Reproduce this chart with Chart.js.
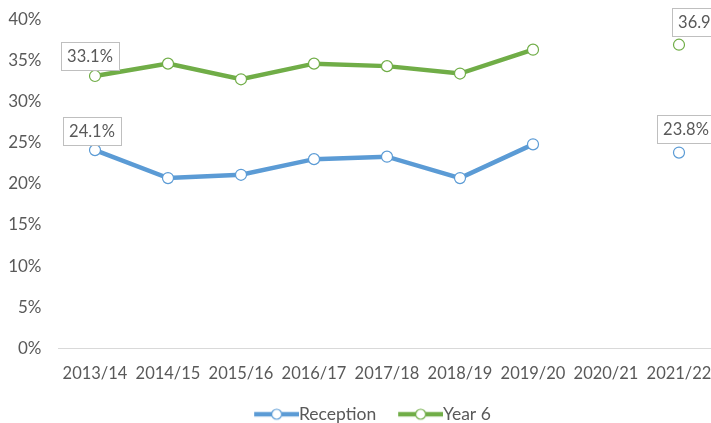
<!DOCTYPE html>
<html>
<head>
<meta charset="utf-8">
<script src="https://cdn.jsdelivr.net/npm/chart.js@4/dist/chart.umd.min.js"></script>
<style>
  html, body { margin: 0; padding: 0; background: #fff; overflow: hidden; }
  #wrap { width: 711px; height: 423px; overflow: hidden; position: relative; }
  canvas { display: block; }
</style>
</head>
<body>
<div id="wrap"><canvas id="chart" width="740" height="433"></canvas></div>
<script>
// data (2020/21 has no value)
const seasons = ['2013/14', '2014/15', '2015/16', '2016/17', '2017/18', '2018/19', '2019/20', '2020/21', '2021/22'];
const reception = [24.1, 20.7, 21.1, 23.0, 23.3, 20.7, 24.8, null, 23.8];
const year6 = [33.1, 34.6, 32.7, 34.6, 34.3, 33.4, 36.3, null, 36.9];
const yTicks = [0, 5, 10, 15, 20, 25, 30, 35, 40];

const BLUE = '#5B9BD5';
const GREEN = '#70AD47';
const TEXT = '#595959';
const FONT = 'Lato, "Open Sans", sans-serif';
const LEG_FONT = 17.5;

// legend icon: line with a hollow marker, Excel style
function legendIcon(color, boxW) {
    const c = document.createElement('canvas');
    c.width = Math.round(boxW + LEG_FONT);
    c.height = 14;
    const g = c.getContext('2d');
    const x0 = c.width - 45, x1 = c.width;
    g.strokeStyle = color;
    g.lineWidth = 4.5;
    g.beginPath(); g.moveTo(x0, 7); g.lineTo(x1, 7); g.stroke();
    g.fillStyle = '#fff';
    g.lineWidth = 1.2;
    g.beginPath(); g.arc((x0 + x1) / 2, 7, 5, 0, Math.PI * 2); g.fill(); g.stroke();
    return c;
}
const LEG_BOX = 57;
const icons = [legendIcon(BLUE, LEG_BOX), legendIcon(GREEN, LEG_BOX)];

// boxed value labels on first and last points
const boxLabels = {
    id: 'boxLabels',
    afterDatasetsDraw(chart, args, opts) {
        const ctx = chart.ctx;
        ctx.save();
        ctx.font = '16.5px ' + FONT;
        ctx.textAlign = 'center';
        ctx.textBaseline = 'middle';
        opts.items.forEach(it => {
            const el = chart.getDatasetMeta(it.ds).data[it.idx];
            const v = chart.data.datasets[it.ds].data[it.idx];
            const cx = el.x + it.dx, bottom = el.y - it.gap;
            const w = 58, h = 28;
            ctx.fillStyle = '#fff';
            ctx.fillRect(cx - w / 2, bottom - h, w, h);
            ctx.strokeStyle = '#BFBFBF';
            ctx.lineWidth = 1;
            ctx.strokeRect(Math.round(cx - w / 2) + 0.5, Math.round(bottom - h) + 0.5, w, h);
            ctx.fillStyle = TEXT;
            ctx.fillText(v.toFixed(1) + '%', cx, bottom - h / 2 + 1);
        });
        ctx.restore();
    }
};

const lineStyle = color => ({
    borderColor: color, backgroundColor: color,
    borderWidth: 4.5, tension: 0, spanGaps: false,
    pointRadius: 5.5, pointHoverRadius: 5.5,
    pointBackgroundColor: '#fff', pointBorderColor: color, pointBorderWidth: 1.2
});

new Chart(document.getElementById('chart'), {
    type: 'line',
    data: {
        labels: seasons,
        datasets: [
            { label: 'Reception', data: reception, ...lineStyle(BLUE) },
            { label: 'Year 6', data: year6, ...lineStyle(GREEN) }
        ]
    },
    options: {
        responsive: false, animation: false,
        layout: { padding: { top: 3.5, left: 8.5, right: 24.5, bottom: 0 } },
        scales: {
            x: {
                offset: true,
                grid: { display: false },
                border: { display: true, color: '#D9D9D9', width: 1 },
                ticks: { color: TEXT, font: { family: FONT, size: 16.5 }, padding: 7, maxRotation: 0, autoSkip: false },
                afterFit: s => { s.height = 56; s.paddingLeft = 0; s.paddingRight = 0; }
            },
            y: {
                min: 0, max: 40,
                afterBuildTicks: s => { s.ticks = yTicks.map(v => ({ value: v })); },
                grid: { display: false },
                border: { display: false },
                ticks: { color: TEXT, font: { family: FONT, size: 17 }, padding: 9, callback: v => v + '%' },
                afterFit: s => { s.width = 50; }
            }
        },
        plugins: {
            legend: {
                position: 'bottom',
                labels: {
                    usePointStyle: true, pointStyleWidth: LEG_BOX, padding: 1,
                    color: TEXT, font: { family: FONT, size: LEG_FONT },
                    generateLabels: chart => Chart.defaults.plugins.legend.labels.generateLabels(chart)
                        .map((l, i) => ({ ...l, pointStyle: icons[i] }))
                }
            },
            tooltip: { enabled: false },
            boxLabels: {
                items: [
                    { ds: 1, idx: 0, dx: -5, gap: 6 },
                    { ds: 0, idx: 0, dx: -3, gap: 5 },
                    { ds: 1, idx: 8, dx: 22, gap: 9 },
                    { ds: 0, idx: 8, dx: 7, gap: 10 }
                ]
            }
        }
    },
    plugins: [boxLabels]
});
</script>
</body>
</html>
